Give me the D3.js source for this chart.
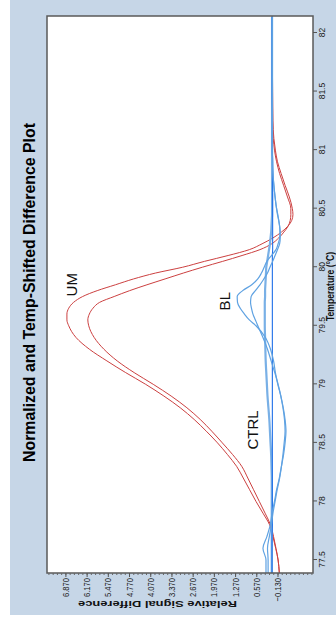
<!DOCTYPE html>
<html>
<head>
<meta charset="utf-8">
<script src="https://cdn.jsdelivr.net/npm/d3@7"></script>
<style>
  html, body { margin: 0; padding: 0; background: #ffffff; }
  svg { display: block; }
  text { font-family: "Liberation Sans", Arial, sans-serif; }
</style>
</head>
<body>
<svg id="chart" width="336" height="620"></svg>
<script>
// Temperature grid (°C) shared by every trace
const temps = [77.39, 77.5, 77.6, 77.7, 77.8, 77.9, 78.0, 78.1, 78.2, 78.3, 78.4, 78.5, 78.6, 78.7, 78.8, 78.9,
  79.0, 79.1, 79.2, 79.3, 79.4, 79.5, 79.55, 79.6, 79.65, 79.7, 79.75, 79.8, 79.85, 79.9, 79.95,
  80.0, 80.05, 80.1, 80.15, 80.2, 80.25, 80.3, 80.35, 80.4, 80.45, 80.5, 80.6, 80.7, 80.8, 80.9,
  81.0, 81.1, 81.25, 81.5, 81.75, 82.0, 82.14];

// UM replicates (red)
const umHigh = [-0.19, -0.15, -0.07, 0.02, 0.13, 0.35, 0.58, 0.79, 1.00, 1.22, 1.52, 1.85, 2.22, 2.62, 3.08, 3.62,
  4.22, 4.88, 5.50, 6.08, 6.52, 6.76, 6.82, 6.82, 6.76, 6.60, 6.30, 5.82, 5.22, 4.62, 3.90,
  3.00, 2.28, 1.50, 0.80, 0.38, 0.02, -0.26, -0.47, -0.60, -0.64, -0.62, -0.52, -0.38, -0.25, -0.13,
  -0.06, -0.01, 0.02, 0.03, 0.04, 0.04, 0.04];
const umLow = [-0.19, -0.15, -0.08, 0.00, 0.10, 0.28, 0.47, 0.66, 0.85, 1.05, 1.35, 1.69, 2.04, 2.42, 2.86, 3.38,
  3.97, 4.60, 5.16, 5.60, 5.92, 6.10, 6.13, 6.08, 5.96, 5.74, 5.26, 4.75, 4.18, 3.58, 2.98,
  2.35, 1.68, 1.04, 0.45, 0.06, -0.17, -0.34, -0.48, -0.55, -0.57, -0.57, -0.46, -0.33, -0.20, -0.10,
  -0.03, 0.01, 0.03, 0.04, 0.04, 0.04, 0.04];

// BL replicates (blue)
const blHigh = [0.25, 0.25, 0.35, 0.22, 0.11, 0.05, -0.03, -0.10, -0.19, -0.26, -0.33, -0.38, -0.41, -0.38, -0.32, -0.24,
  -0.14, -0.06, 0.00, 0.10, 0.27, 0.58, 0.80, 0.96, 1.10, 1.19, 1.20, 1.02, 0.72, 0.52, 0.40,
  0.31, 0.22, 0.07, -0.08, -0.15, -0.20, -0.21, -0.20, -0.17, -0.14, -0.10, -0.05, -0.01, 0.02, 0.03,
  0.04, 0.04, 0.04, 0.04, 0.04, 0.04, 0.04];
const blLow = [0.18, 0.18, 0.20, 0.14, 0.07, 0.02, -0.05, -0.12, -0.20, -0.26, -0.31, -0.35, -0.38, -0.36, -0.31, -0.24,
  -0.15, -0.04, 0.08, 0.20, 0.35, 0.52, 0.60, 0.68, 0.73, 0.76, 0.74, 0.60, 0.45, 0.32, 0.20,
  0.12, 0.03, -0.05, -0.13, -0.20, -0.22, -0.22, -0.20, -0.17, -0.13, -0.10, -0.05, -0.01, 0.02, 0.04,
  0.04, 0.04, 0.04, 0.04, 0.04, 0.04, 0.04];

// CTRL replicates (blue)
const ctrlBroad = [0.06, 0.06, 0.06, 0.06, 0.06, 0.06, 0.06, 0.06, 0.06, 0.07, 0.08, 0.10, 0.12, 0.14, 0.17, 0.20,
  0.22, 0.24, 0.26, 0.27, 0.28, 0.29, 0.29, 0.29, 0.29, 0.29, 0.28, 0.28, 0.27, 0.26, 0.25,
  0.24, 0.21, 0.18, 0.15, 0.12, 0.10, 0.08, 0.07, 0.06, 0.05, 0.05, 0.05, 0.05, 0.05, 0.05,
  0.05, 0.05, 0.05, 0.05, 0.05, 0.05, 0.05];
const ctrlFlat = [0.05, 0.05, 0.05, 0.05, 0.04, 0.04, 0.04, 0.04, 0.04, 0.04, 0.04, 0.04, 0.04, 0.04, 0.04, 0.04,
  0.04, 0.04, 0.04, 0.04, 0.04, 0.04, 0.04, 0.04, 0.04, 0.04, 0.04, 0.04, 0.04, 0.04, 0.04,
  0.04, 0.04, 0.04, 0.03, 0.03, 0.03, 0.03, 0.03, 0.03, 0.03, 0.03, 0.03, 0.03, 0.03, 0.03,
  0.04, 0.04, 0.04, 0.05, 0.05, 0.05, 0.05];

// Axis ticks
const tempTicks = [77.5, 78, 78.5, 79, 79.5, 80, 80.5, 81, 81.5, 82];
const signalTicks = [-0.13, 0.57, 1.27, 1.97, 2.67, 3.37, 4.07, 4.77, 5.47, 6.17, 6.87];
const signalMinorTicks = d3.range(-1.25, 7.45, 0.14).map(v => +v.toFixed(2));

// Series labels placed at (temperature, signal)
const labels = [
  { text: "UM", t: 79.85, v: 6.49 },
  { text: "BL", t: 79.71, v: 1.44 },
  { text: "CTRL", t: 78.61, v: 0.51 }
];

const series = [
  { name: "UM", values: umHigh, color: "#cc4040", width: 1 },
  { name: "UM", values: umLow, color: "#cc4040", width: 1 },
  { name: "CTRL", values: ctrlBroad, color: "#79b0e6", width: 2.2 },
  { name: "CTRL", values: ctrlFlat, color: "#1f6fe8", width: 1.1 },
  { name: "BL", values: blHigh, color: "#5fa2e2", width: 1.2 },
  { name: "BL", values: blLow, color: "#5fa2e2", width: 1.2 }
];

const svg = d3.select("#chart");

// Light blue panel behind the chart
svg.append("rect")
  .attr("x", 10).attr("y", 0)
  .attr("width", 326).attr("height", 615)
  .attr("fill", "#c6d6e7");

// The plot is laid out landscape (620 x 336) and turned a quarter turn counter-clockwise
const g = svg.append("g").attr("transform", "translate(0,620) rotate(-90)");

const plot = { left: 47, right: 604, top: 47, bottom: 313 };

const x = d3.scaleLinear().domain([77.5, 82]).range([60, 587]);
const y = d3.scaleLinear().domain([-0.13, 6.87]).range([277.5, 65.4]);

g.append("defs").append("clipPath").attr("id", "plotClip")
  .append("rect")
  .attr("x", plot.left).attr("y", plot.top)
  .attr("width", plot.right - plot.left).attr("height", plot.bottom - plot.top);

g.append("rect")
  .attr("x", plot.left).attr("y", plot.top)
  .attr("width", plot.right - plot.left).attr("height", plot.bottom - plot.top)
  .attr("fill", "#ffffff");

const line = d3.line()
  .x(d => x(d[0]))
  .y(d => y(d[1]))
  .curve(d3.curveMonotoneX);

g.append("g").attr("clip-path", "url(#plotClip)")
  .selectAll("path")
  .data(series)
  .join("path")
  .attr("d", s => line(temps.map((t, i) => [t, s.values[i]])))
  .attr("fill", "none")
  .attr("stroke", s => s.color)
  .attr("stroke-width", s => s.width)
  .attr("stroke-linejoin", "round");

// Plot frame
g.append("rect")
  .attr("x", plot.left).attr("y", plot.top)
  .attr("width", plot.right - plot.left).attr("height", plot.bottom - plot.top)
  .attr("fill", "none")
  .attr("stroke", "#5a5a5a")
  .attr("stroke-width", 1.5);

// Signal axis: minor ticks
g.append("g")
  .attr("transform", `translate(${plot.left},0)`)
  .call(d3.axisLeft(y).tickValues(signalMinorTicks.filter(v => y(v) > plot.top && y(v) < plot.bottom))
    .tickSize(2).tickFormat(""))
  .call(a => a.select(".domain").remove())
  .call(a => a.selectAll("line").attr("stroke", "#666"));

// Signal axis: major ticks and labels
const yAxis = g.append("g")
  .attr("transform", `translate(${plot.left},0)`)
  .call(d3.axisLeft(y).tickValues(signalTicks).tickSize(4).tickFormat(d3.format(".3f")));
yAxis.select(".domain").remove();
yAxis.selectAll("line").attr("stroke", "#555");
yAxis.selectAll("text")
  .attr("x", 0)
  .attr("transform", "translate(-5,0) scale(0.8,1)")
  .attr("font-size", 9.5)
  .attr("fill", "#222");

// Temperature axis
const xAxis = g.append("g")
  .attr("transform", `translate(0,${plot.bottom})`)
  .call(d3.axisBottom(x).tickValues(tempTicks).tickSize(4).tickPadding(1).tickFormat(d => String(d)));
xAxis.select(".domain").remove();
xAxis.selectAll("line").attr("stroke", "#555");
xAxis.selectAll("text")
  .attr("transform", "scale(0.9,1)")
  .attr("font-size", 9.5)
  .attr("fill", "#222");

// Axis titles
g.append("text")
  .attr("x", (plot.left + plot.right) / 2 + 8)
  .attr("y", 334)
  .attr("text-anchor", "middle")
  .attr("font-size", 10)
  .attr("font-weight", "bold")
  .attr("textLength", 69)
  .attr("lengthAdjust", "spacingAndGlyphs")
  .attr("fill", "#111")
  .text("Temperature (°C)");

g.append("text")
  .attr("transform", "translate(19,157.5) rotate(-90)")
  .attr("text-anchor", "middle")
  .attr("font-size", 9.5)
  .attr("font-weight", "bold")
  .attr("textLength", 159)
  .attr("lengthAdjust", "spacingAndGlyphs")
  .attr("fill", "#111")
  .text("Relative Signal Difference");

// Chart title
g.append("text")
  .attr("x", 327.5)
  .attr("y", 35)
  .attr("text-anchor", "middle")
  .attr("font-size", 16)
  .attr("font-weight", "bold")
  .attr("textLength", 339)
  .attr("lengthAdjust", "spacingAndGlyphs")
  .attr("fill", "#000")
  .text("Normalized and Temp-Shifted Difference Plot");

// Series labels
g.append("g")
  .selectAll("text")
  .data(labels)
  .join("text")
  .attr("x", d => x(d.t))
  .attr("y", d => y(d.v))
  .attr("text-anchor", "middle")
  .attr("font-size", 15)
  .attr("fill", "#111")
  .text(d => d.text);
</script>
</body>
</html>
